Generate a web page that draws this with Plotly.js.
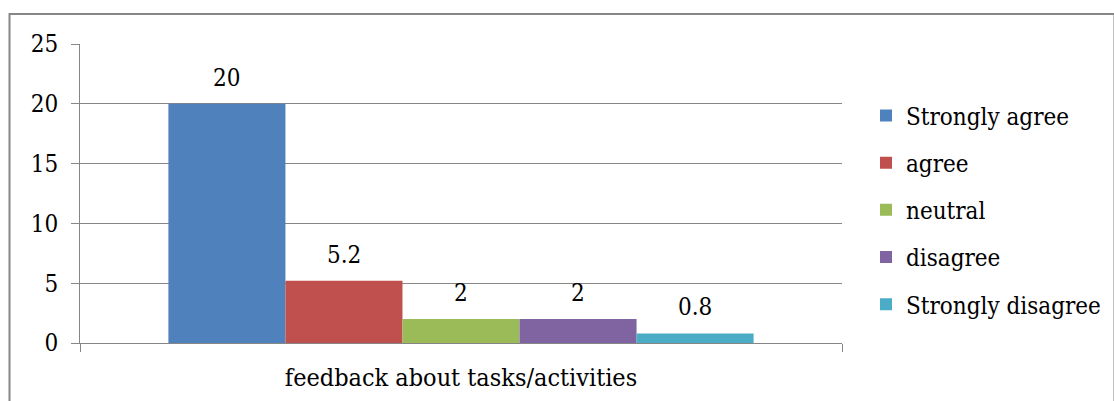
<!DOCTYPE html>
<html>
<head>
<meta charset="utf-8">
<script src="https://cdn.plot.ly/plotly-3.0.1.min.js"></script>
<style>
  html, body { margin: 0; padding: 0; background: #fff; }
  #chart { width: 1114px; height: 401px; }
</style>
</head>
<body>
<div id="chart"></div>
<script>
// Survey responses for one question
const category = ['feedback about tasks/activities'];
const responses = ['Strongly agree', 'agree', 'neutral', 'disagree', 'Strongly disagree'];
const values = [20, 5.2, 2, 2, 0.8];
const colors = ['#4F81BD', '#C0504D', '#9BBB59', '#8064A2', '#4BACC6'];
const yTicks = [0, 5, 10, 15, 20, 25];

const FONT = '"DejaVu Serif Condensed", "DejaVu Serif", serif';
const GRID = '#868686';

const W = 1114, H = 401;
const margin = { l: 80, r: 272, t: 44, b: 58, pad: 0, autoexpand: false };
const BARGAP = 0.232;

const traces = responses.map((name, i) => ({
  type: 'bar',
  name: name,
  legendgroup: 'g' + i,
  x: category,
  y: [values[i]],
  marker: { color: colors[i], line: { width: 0 } },
  hoverinfo: 'name+y'
}));

// Value labels sit above each bar; horizontal shift follows the group slot width
const plotW = W - margin.l - margin.r;
const slot = plotW * (1 - BARGAP) / responses.length;
const labels = values.map((v, i) => ({
  xref: 'x', yref: 'y',
  x: category[0], y: v,
  text: String(v),
  showarrow: false,
  xanchor: 'center', yanchor: 'middle',
  xshift: (i - (responses.length - 1) / 2) * slot,
  yshift: 26,
  font: { family: FONT, size: 24, color: '#000' }
}));

const layout = {
  width: W,
  height: H,
  margin: margin,
  paper_bgcolor: '#fff',
  plot_bgcolor: '#fff',
  font: { family: FONT, size: 24, color: '#000' },
  barmode: 'group',
  bargap: BARGAP,
  bargroupgap: 0,
  showlegend: true,
  legend: {
    x: 1.0315, xanchor: 'left',
    y: 0.835, yanchor: 'top',
    traceorder: 'grouped',
    tracegroupgap: 13,
    itemwidth: 30,
    font: { family: FONT, size: 24, color: '#000' },
    bgcolor: 'rgba(0,0,0,0)'
  },
  xaxis: {
    type: 'category',
    showline: true, linecolor: GRID, linewidth: 1,
    ticks: 'outside', tickson: 'boundaries', ticklen: 8, tickcolor: GRID,
    showgrid: false, zeroline: false,
    tickfont: { family: FONT, size: 25, color: '#000' },
    ticklabelstandoff: 12
  },
  yaxis: {
    range: [0, 25],
    tickvals: yTicks,
    ticktext: yTicks.map(String),
    showline: true, linecolor: GRID, linewidth: 1,
    ticks: 'outside', ticklen: 8, tickcolor: GRID,
    showgrid: true, gridcolor: GRID, gridwidth: 1,
    zeroline: false,
    tickfont: { family: FONT, size: 24, color: '#000' },
    ticklabelstandoff: 8
  },
  annotations: labels,
  shapes: [{
    type: 'rect', xref: 'paper', yref: 'paper',
    x0: -0.0925, x1: 1.3576, y0: -0.3, y1: 1.1,
    line: { color: GRID, width: 2 }, fillcolor: 'rgba(0,0,0,0)', layer: 'below'
  }]
};

Plotly.newPlot('chart', traces, layout, { displayModeBar: false, staticPlot: true });
</script>
</body>
</html>
